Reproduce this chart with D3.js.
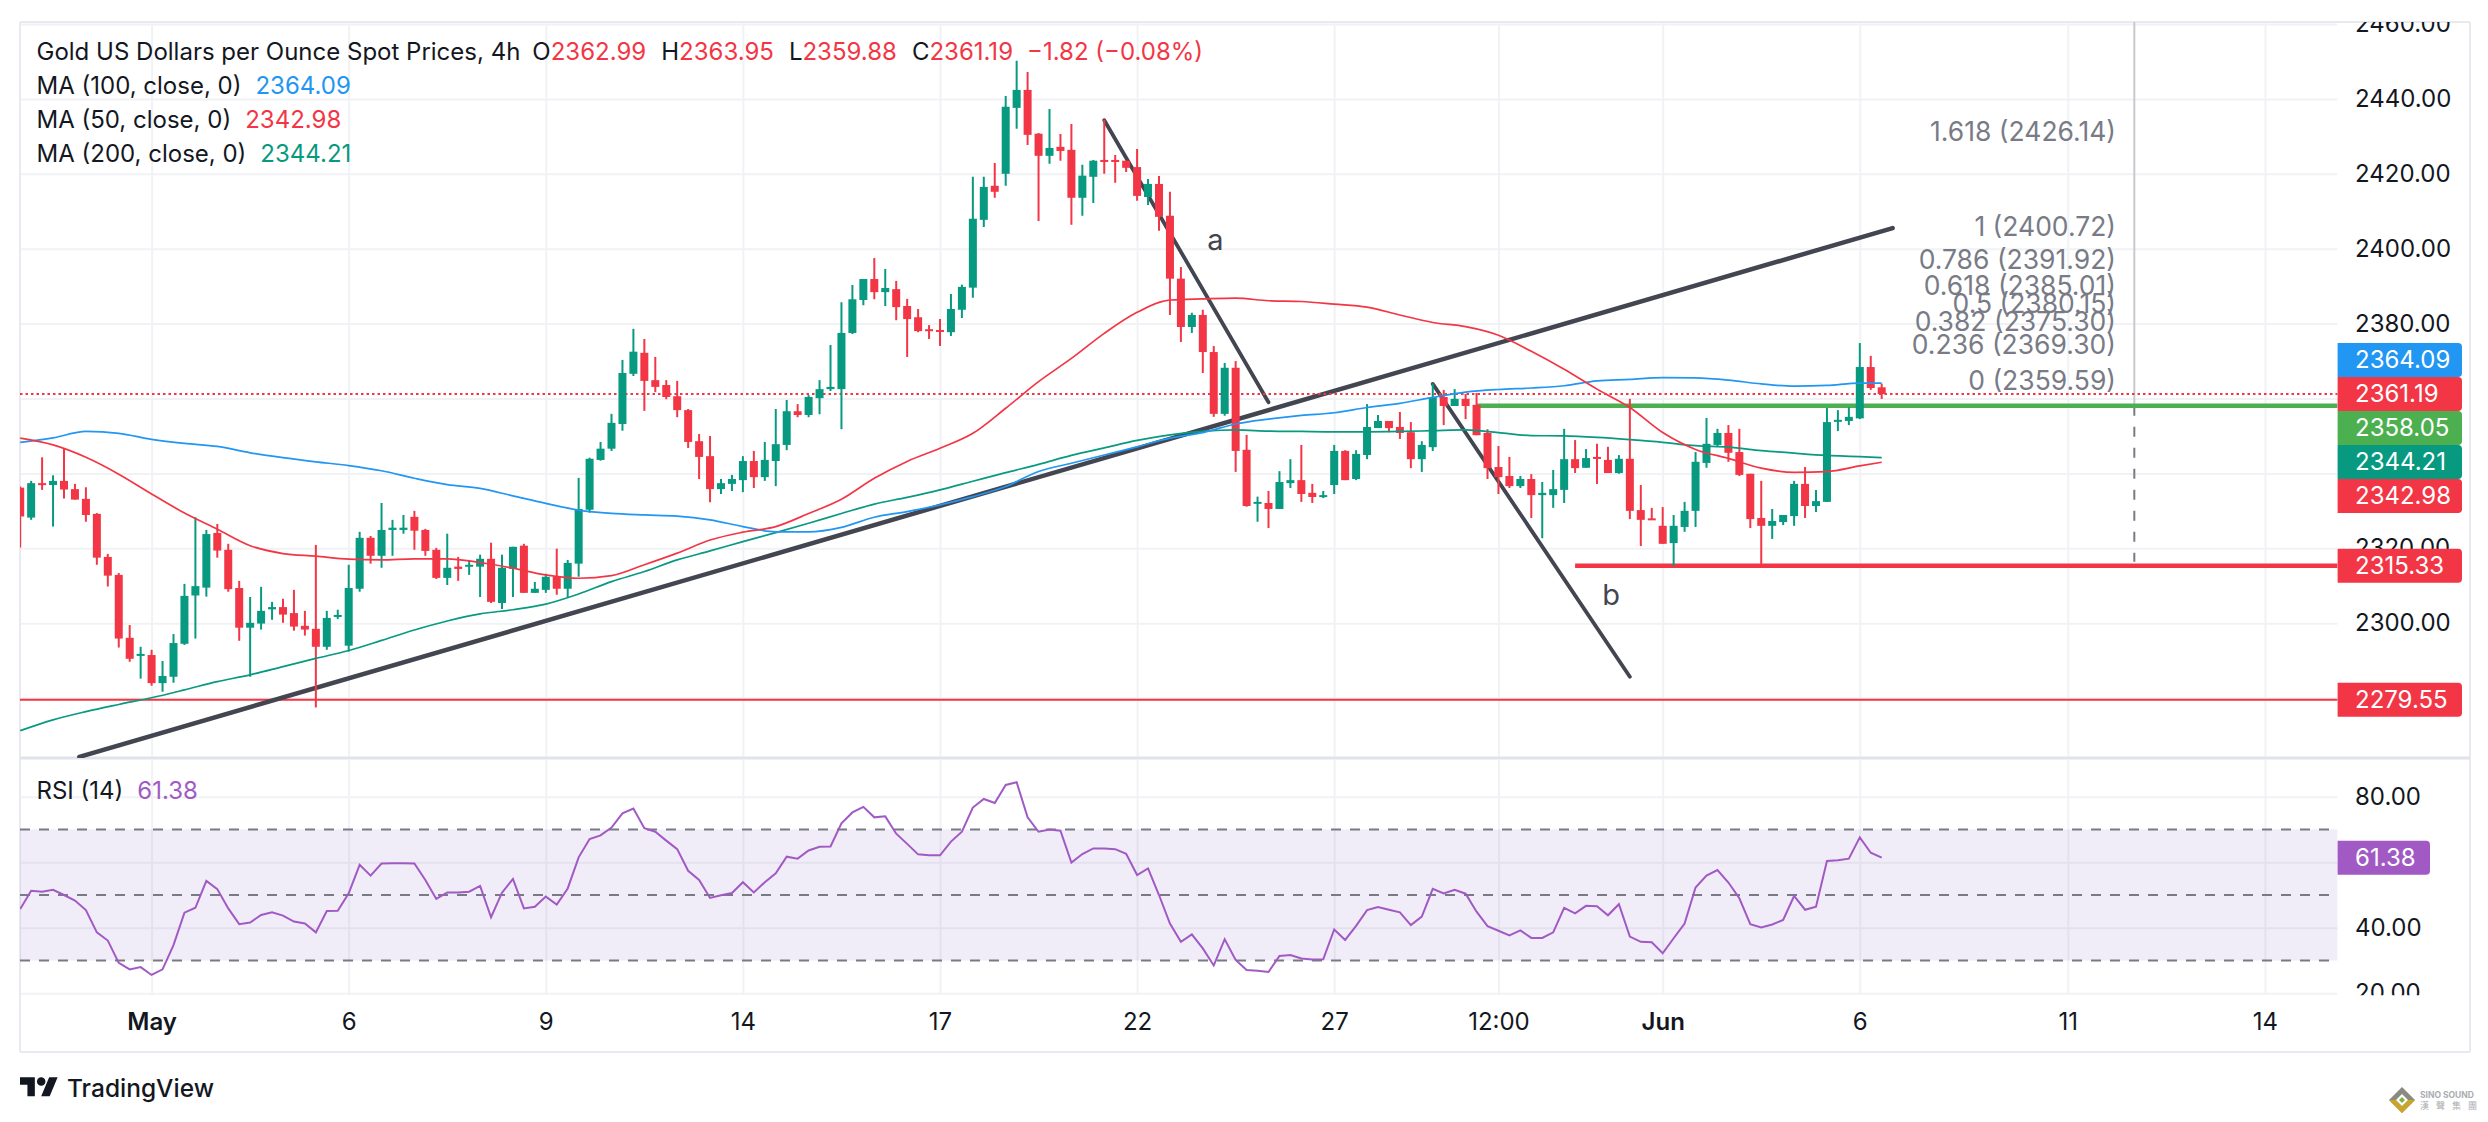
<!DOCTYPE html>
<html>
<head>
  <meta charset="UTF-8">
  <title>Gold US Dollars per Ounce Spot Prices, 4h</title>
  <script type="text/javascript" src="https://cdn.jsdelivr.net/npm/d3@7/dist/d3.min.js" charset="UTF-8"></script>
  <style>
    html, body { margin: 0; padding: 0; background: #fff; }
    svg { display: block; }
    text { font-family: Inter, "Noto Sans", sans-serif; }
  </style>
</head>

<body>

<svg xmlns="http://www.w3.org/2000/svg" width="2488" height="1122"></svg>

<script type="text/javascript">

  var opens = [
    2336.2,2328.2,2337.4,2336.9,2338.0,2335.8,2333.2,2329.2,2317.7,2312.9,
    2296.1,2291.3,2291.5,2284.0,2285.7,2294.5,2307.4,2309.5,2324.1,2319.6,
    2309.4,2298.8,2299.9,2303.7,2304.3,2302.7,2299.3,2298.5,2293.7,2301.8,
    2294.0,2309.2,2322.8,2318.0,2324.9,2324.9,2328.4,2324.9,2319.6,2312.1,
    2315.1,2315.1,2315.1,2317.2,2305.4,2314.5,2320.7,2308.1,2308.9,2312.4,
    2309.2,2315.9,2330.3,2343.6,2346.6,2353.2,2366.6,2372.2,2364.9,2363.6,
    2360.6,2356.9,2348.6,2344.6,2335.8,2337.2,2338.2,2343.3,2339.0,2343.3,
    2347.6,2356.6,2355.6,2360.1,2362.5,2362.5,2377.5,2386.3,2391.9,2388.4,
    2389.2,2384.7,2381.7,2378.5,2378.3,2377.7,2383.7,2389.6,2407.7,2416.8,
    2420.0,2437.6,2442.4,2430.7,2424.8,2427.2,2426.4,2413.6,2419.2,2423.7,
    2423.7,2423.5,2421.8,2413.8,2417.3,2408.8,2392.0,2379.1,2382.3,2372.4,
    2355.9,2368.2,2346.3,2332.0,2332.1,2330.5,2337.4,2338.2,2334.8,2333.7,
    2336.9,2346.0,2338.5,2344.9,2352.1,2354.0,2352.4,2351.0,2343.8,2347.0,
    2360.4,2358.0,2359.9,2358.3,2350.8,2341.7,2339.3,2336.6,2338.5,2334.2,
    2334.2,2335.6,2343.8,2341.5,2344.4,2343.6,2340.1,2343.9,2330.2,2328.0,
    2326.0,2321.4,2325.7,2330.0,2342.8,2347.6,2350.8,2345.7,2339.9,2328.1,
    2326.0,2327.0,2328.6,2337.2,2331.3,2332.4,2353.8,2354.0,2354.7,2368.4,2362.99
  ];
  var highs = [
    2336.5,2338.0,2344.3,2339.5,2346.7,2337.2,2336.3,2329.4,2318.5,2313.4,
    2299.5,2293.7,2292.9,2289.9,2297.1,2310.5,2328.3,2324.9,2326.5,2321.2,
    2311.3,2307.0,2309.7,2305.7,2306.5,2308.9,2303.3,2320.9,2303.3,2303.6,
    2315.6,2324.4,2323.3,2332.1,2327.6,2328.9,2330.0,2325.2,2320.1,2323.9,
    2317.7,2316.9,2318.3,2321.5,2318.3,2320.4,2321.2,2311.0,2313.2,2319.9,
    2316.9,2338.8,2344.2,2348.4,2355.9,2370.3,2378.6,2375.9,2371.1,2364.9,
    2364.7,2357.2,2350.5,2350.0,2338.5,2339.6,2344.6,2346.0,2348.4,2357.2,
    2359.6,2358.5,2360.9,2364.9,2374.3,2385.7,2390.3,2391.9,2397.5,2394.6,
    2391.4,2386.6,2383.9,2379.6,2381.2,2387.9,2390.4,2419.2,2419.2,2422.9,
    2440.8,2450.2,2447.2,2430.9,2437.3,2430.6,2433.3,2422.4,2423.7,2434.4,
    2425.0,2423.5,2426.6,2418.6,2419.4,2415.2,2395.1,2382.9,2383.7,2374.0,
    2369.5,2370.0,2350.3,2333.8,2335.3,2340.6,2343.8,2347.6,2337.2,2335.3,
    2347.6,2346.2,2346.2,2358.5,2355.6,2354.0,2356.4,2353.7,2348.6,2364.0,
    2362.3,2362.5,2361.2,2361.5,2351.8,2347.3,2344.4,2339.3,2339.8,2337.7,
    2340.9,2351.9,2348.9,2346.5,2347.9,2347.1,2344.9,2359.9,2336.9,2330.8,
    2331.0,2328.9,2332.4,2345.7,2354.8,2351.9,2352.9,2351.9,2339.9,2338.0,
    2330.5,2328.9,2338.0,2341.7,2335.6,2357.5,2356.9,2357.7,2374.8,2371.4,2363.95
  ];
  var lows = [
    2320.2,2327.6,2335.6,2325.8,2333.3,2333.0,2327.1,2315.6,2309.8,2293.5,
    2289.7,2285.2,2283.3,2281.7,2284.1,2294.2,2295.9,2307.1,2317.5,2308.4,
    2295.3,2285.7,2298.3,2300.9,2300.1,2298.0,2296.7,2277.5,2292.9,2301.1,
    2292.4,2308.4,2315.9,2314.8,2318.0,2323.9,2319.6,2318.0,2311.8,2310.2,
    2311.3,2312.9,2307.0,2305.4,2303.8,2307.0,2308.1,2308.1,2308.1,2307.6,
    2307.0,2312.4,2329.5,2343.4,2346.0,2351.4,2366.0,2356.7,2361.7,2359.8,
    2355.0,2346.8,2338.5,2332.3,2334.5,2335.3,2335.0,2336.1,2338.0,2336.6,
    2346.2,2355.0,2355.0,2355.8,2362.0,2351.8,2377.2,2384.9,2386.5,2384.7,
    2380.9,2371.1,2377.7,2375.9,2374.0,2376.7,2381.5,2386.9,2405.8,2413.6,
    2416.8,2432.0,2427.7,2407.4,2422.7,2423.5,2406.4,2408.8,2412.2,2420.0,
    2417.6,2420.5,2412.8,2411.7,2404.8,2382.3,2375.1,2377.5,2366.8,2355.1,
    2355.4,2340.4,2331.1,2327.1,2325.4,2330.5,2336.1,2332.4,2332.1,2333.4,
    2334.5,2338.2,2338.2,2343.8,2352.1,2351.0,2349.2,2341.4,2340.4,2346.0,
    2352.9,2358.0,2354.5,2350.2,2338.5,2334.5,2336.1,2336.1,2328.1,2322.7,
    2330.8,2332.1,2340.1,2341.5,2337.2,2340.1,2339.9,2327.8,2320.6,2327.6,
    2321.2,2315.3,2324.4,2325.7,2341.5,2347.1,2343.1,2339.3,2325.4,2315.8,
    2322.5,2326.2,2326.0,2328.1,2329.7,2332.4,2351.3,2352.9,2354.5,2362.3,2359.88
  ];
  var closes = [
    2328.5,2337.4,2336.9,2338.0,2335.7,2333.0,2328.9,2317.5,2312.7,2295.9,
    2290.5,2291.8,2284.0,2285.9,2294.7,2307.3,2309.9,2323.8,2319.4,2309.1,
    2298.8,2300.1,2303.3,2304.3,2302.3,2299.1,2298.3,2293.7,2301.4,2302.2,
    2309.4,2322.8,2318.0,2324.9,2325.5,2325.5,2324.7,2319.3,2312.1,2314.8,
    2314.5,2315.6,2317.2,2305.7,2314.8,2320.4,2308.1,2309.2,2312.4,2309.2,
    2316.1,2330.5,2343.9,2346.6,2353.5,2366.8,2372.5,2364.7,2363.1,2360.4,
    2356.9,2348.4,2344.4,2335.8,2337.4,2338.5,2343.3,2339.0,2343.6,2347.8,
    2356.6,2355.6,2360.4,2362.5,2363.1,2377.5,2386.5,2391.9,2388.4,2389.5,
    2384.4,2381.2,2378.0,2378.1,2377.8,2383.9,2389.8,2408.0,2416.5,2415.2,
    2437.9,2442.4,2430.4,2424.8,2426.9,2426.1,2413.6,2419.5,2423.5,2423.3,
    2423.3,2421.6,2414.1,2417.3,2408.5,2392.0,2379.1,2382.3,2372.4,2355.9,
    2368.2,2346.0,2331.3,2332.4,2330.5,2337.7,2338.2,2334.5,2333.7,2334.2,
    2346.0,2338.2,2345.2,2352.4,2354.0,2352.1,2350.8,2343.8,2347.6,2360.4,
    2358.0,2359.9,2358.0,2350.2,2341.4,2339.0,2336.6,2338.5,2334.2,2334.8,
    2335.8,2343.8,2341.4,2344.1,2343.9,2340.1,2343.9,2330.0,2327.6,2327.6,
    2321.2,2326.0,2330.0,2343.1,2347.9,2350.8,2345.5,2339.6,2327.8,2326.0,
    2327.3,2328.9,2337.2,2331.3,2332.6,2353.7,2354.3,2355.1,2368.4,2362.8,2361.19
  ];

  // moving averages
  var maBars = [0,3,6,9,12,15,18,21,24,27,30,33,36,39,42,45,48,51,54,57,60,63,66,69,72,75,78,81,84,87,
    90,93,96,99,102,105,108,111,114,117,120,123,126,129,132,135,138,141,144,147,150,153,156,159,162,165,168,170];
  var ma100 = [2348.3,2349.5,2351.2,2350.7,2349.1,2348.0,2347.2,2345.5,2344.2,2343.1,2342.1,2340.7,2338.7,2337.0,2336.0,
    2334.0,2332.0,2330.2,2329.3,2328.9,2328.6,2327.6,2325.8,2324.4,2324.4,2325.6,2328.3,2329.8,2331.6,2333.8,2336.5,
    2340.5,2342.7,2344.9,2347.1,2349.4,2350.9,2353.2,2354.5,2355.5,2356.2,2357.6,2358.7,2360.3,2361.7,2362.4,2362.8,
    2363.4,2364.7,2365.1,2365.6,2365.5,2364.9,2363.9,2363.3,2363.5,2364.1,2364.09];
  var ma50 = [2349.4,2347.6,2344.3,2339.8,2334.5,2329.4,2325.1,2320.7,2318.6,2317.9,2317.1,2316.9,2317.2,2317.2,2316.2,
    2314.7,2312.9,2312.0,2312.7,2315.6,2318.7,2322.2,2324.3,2325.8,2329.3,2333.1,2338.7,2343.2,2346.7,2350.7,2357.4,
    2364.5,2370.7,2377.4,2383.0,2386.3,2386.6,2386.8,2386.1,2385.9,2385.2,2384.4,2382.3,2380.3,2379.2,2376.9,2372.6,
    2367.8,2362.5,2357.6,2350.9,2346.4,2344.0,2341.4,2340.3,2340.5,2342.0,2342.98];
  var ma200 = [2271.3,2274.2,2276.4,2278.3,2280.1,2282.2,2284.4,2286.2,2288.4,2290.6,2292.7,2295.4,2298.2,2300.6,2302.5,
    2303.6,2305.1,2307.8,2311.1,2313.8,2316.9,2319.3,2321.8,2324.2,2326.7,2329.3,2331.8,2333.6,2335.6,2337.9,2340.2,
    2342.4,2344.8,2346.8,2348.8,2350.3,2351.2,2351.6,2351.3,2351.2,2351.1,2351.1,2351.2,2351.4,2351.6,2350.9,2350.1,
    2350.0,2349.6,2349.0,2348.3,2347.4,2347.0,2346.1,2345.4,2344.8,2344.5,2344.21];

  var rsi = [
    45.7,51.3,51.0,51.6,50.0,48.3,45.4,38.6,36.1,29.3,
    27.3,28.0,25.6,27.3,34.7,44.6,46.1,54.3,51.8,45.9,
    41.1,41.6,43.9,44.7,43.7,41.9,41.3,38.6,45.1,45.2,
    50.5,59.2,55.9,59.6,59.7,59.7,59.6,54.6,48.8,50.8,
    50.8,51.0,52.8,43.2,50.7,54.9,45.9,46.4,49.5,47.1,
    52.0,61.5,67.1,68.2,70.6,74.9,76.4,70.4,69.3,66.6,
    64.0,57.4,54.6,49.1,49.9,50.6,53.9,50.8,53.9,56.6,
    61.7,61.1,63.6,64.7,64.8,71.9,75.2,76.9,73.7,74.0,
    68.7,65.6,62.4,62.1,62.1,66.3,69.3,76.7,79.3,78.1,
    83.6,84.4,73.7,69.3,70.0,69.6,59.9,62.5,64.2,64.2,
    64.0,62.6,56.1,58.1,50.0,41.3,35.7,38.0,33.7,28.5,
    36.5,30.2,27.1,26.9,26.5,31.4,31.7,30.6,30.3,30.4,
    39.5,36.3,40.6,45.4,46.3,45.5,44.7,40.8,43.4,51.9,
    50.5,51.6,50.4,44.9,40.5,39.1,37.7,39.2,36.9,36.9,
    38.6,46.1,44.4,46.7,46.6,43.8,47.2,37.3,35.7,35.6,
    32.2,36.8,41.3,52.3,55.9,57.6,53.8,49.0,41.1,40.1,
    41.0,42.4,49.7,45.5,46.4,60.4,60.6,61.1,67.6,62.9,61.38
  ];

  var priceTicks = [2280,2300,2320,2340,2360,2380,2400,2420,2440,2460];
  var rsiTicks = [20,40,60,80];
  var rsiLevels = [70,50,30];
  var timeBars = [12,30,48,66,84,102,120,135,150,168,187,205];
  var timeLabels = ["May","6","9","14","17","22","27","12:00","Jun","6","11","14"];

  var fibLevels = ["1.618","1","0.786","0.618","0.5","0.382","0.236","0"];
  var fibPrices = [2426.14,2400.72,2391.92,2385.01,2380.15,2375.30,2369.30,2359.59];

  var lastClose = 2361.19;
  var support = 2279.55;
  var lowLevel = 2315.33;
  var highLevel = 2358.05;

  // drawing tools as [bar, price]
  var trendLine = [[5.4,2264.3],[171,2405.5]];
  var waveA = [[99,2434.3],[114,2359.0]];
  var waveB = [[129,2363.9],[147,2285.7]];
  var measureBar = 193.07;

  var red = "#f23645", green = "#089981", blue = "#2196f3", purple = "#a15ac4",
      tool = "#434651", grid = "#f1f2f5", frame = "#e8eaef", ink = "#131722", grey = "#787b86";

  var left = 20, right = 2337.6, outer = 2470, paneTop = 22, paneBottom = 758,
      rsiTop = 760, rsiBottom = 995.3, frameBottom = 1052;

  var x = d3.scaleLinear().domain( [12, 205] ).range( [151.6, 2264.95] );
  var y = d3.scaleLinear().domain( [2440, 2300] ).range( [98.9, 623.2] );
  var yRsi = d3.scaleLinear().domain( [80, 20] ).range( [796.7, 993.3] );

  var svg = d3.select( "svg" );
  var defs = svg.append( "defs" );

  function addClip( id, x0, y0, w, h )
  {
    defs.append( "clipPath" ).attr( "id", id ).append( "rect" )
        .attr( "x", x0 ).attr( "y", y0 ).attr( "width", w ).attr( "height", h );
  }
  addClip( "mainClip", left, paneTop, right - left, paneBottom - paneTop );
  addClip( "rsiClip", left, rsiTop, right - left, rsiBottom - rsiTop );
  addClip( "mainAxisClip", right, paneTop, outer - right, paneBottom - paneTop );
  addClip( "rsiAxisClip", right, rsiTop, outer - right, rsiBottom - rsiTop );

  // grids
  function gridAxes( parent, scale, ticks, y0, y1 )
  {
    parent.append( "g" )
        .attr( "transform", "translate(" + left + ",0)" )
        .call( d3.axisRight( scale ).tickValues( ticks ).tickSize( right - left ).tickFormat( "" ) )
        .call( function ( g ) { g.select( ".domain" ).remove(); } )
        .selectAll( "line" ).attr( "stroke", grid ).attr( "stroke-width", 2 );
    parent.append( "g" )
        .attr( "transform", "translate(0," + y0 + ")" )
        .call( d3.axisBottom( x ).tickValues( timeBars ).tickSize( y1 - y0 ).tickFormat( "" ) )
        .call( function ( g ) { g.select( ".domain" ).remove(); } )
        .selectAll( "line" ).attr( "stroke", grid ).attr( "stroke-width", 2 );
  }
  gridAxes( svg.append( "g" ).attr( "clip-path", "url(#mainClip)" ), y, priceTicks, paneTop, paneBottom );
  gridAxes( svg.append( "g" ).attr( "clip-path", "url(#rsiClip)" ), yRsi, rsiTicks, rsiTop, rsiBottom );

  // frame
  var frameLines = [
    [left, paneTop, left, frameBottom],
    [left, paneTop, outer, paneTop],
    [outer, paneTop, outer, frameBottom],
    [left, frameBottom, outer, frameBottom]
  ];
  svg.append( "g" ).selectAll( "line" ).data( frameLines ).enter().append( "line" )
      .attr( "x1", function ( d ) { return d[0]; } )
      .attr( "y1", function ( d ) { return d[1]; } )
      .attr( "x2", function ( d ) { return d[2]; } )
      .attr( "y2", function ( d ) { return d[3]; } )
      .attr( "stroke", frame ).attr( "stroke-width", 2 );
  svg.append( "line" )
      .attr( "x1", left ).attr( "x2", outer )
      .attr( "y1", paneBottom ).attr( "y2", paneBottom )
      .attr( "stroke", "#e0e3eb" ).attr( "stroke-width", 3 );

  var main = svg.append( "g" ).attr( "clip-path", "url(#mainClip)" );

  // vertical measure line
  main.append( "line" )
      .attr( "x1", x( measureBar ) ).attr( "x2", x( measureBar ) )
      .attr( "y1", paneTop ).attr( "y2", y( highLevel ) )
      .attr( "stroke", "#c8c9cd" ).attr( "stroke-width", 2 );
  main.append( "line" )
      .attr( "x1", x( measureBar ) ).attr( "x2", x( measureBar ) )
      .attr( "y1", y( highLevel ) ).attr( "y2", y( lowLevel ) - 4 )
      .attr( "stroke", grey ).attr( "stroke-width", 2 ).attr( "stroke-dasharray", "10 11" );

  // horizontal levels
  var levels = [
    { price: support, from: 0, color: red, width: 2 },
    { price: lowLevel, from: 142, color: red, width: 4.5 },
    { price: highLevel, from: 133, color: "#4caf50", width: 4.5 }
  ];
  main.selectAll( "line.level" ).data( levels ).enter().append( "line" )
      .attr( "class", "level" )
      .attr( "x1", function ( d ) { return d.from === 0 ? left : x( d.from ); } )
      .attr( "x2", right )
      .attr( "y1", function ( d ) { return y( d.price ); } )
      .attr( "y2", function ( d ) { return y( d.price ); } )
      .attr( "stroke", function ( d ) { return d.color; } )
      .attr( "stroke-width", function ( d ) { return d.width; } );

  // trend lines
  var toolLine = d3.line()
      .x( function ( d ) { return x( d[0] ); } )
      .y( function ( d ) { return y( d[1] ); } );
  main.append( "path" ).attr( "d", toolLine( trendLine ) )
      .attr( "fill", "none" ).attr( "stroke", tool ).attr( "stroke-width", 4.5 ).attr( "stroke-linecap", "round" );
  [waveA, waveB].forEach( function ( wave )
  {
    main.append( "path" ).attr( "d", toolLine( wave ) )
        .attr( "fill", "none" ).attr( "stroke", tool ).attr( "stroke-width", 3.8 ).attr( "stroke-linecap", "round" );
  } );

  // last price line
  main.append( "line" )
      .attr( "x1", left ).attr( "x2", right )
      .attr( "y1", y( lastClose ) ).attr( "y2", y( lastClose ) )
      .attr( "stroke", red ).attr( "stroke-width", 2 ).attr( "stroke-dasharray", "2.5 3" );

  // candles
  var bars = d3.range( opens.length );
  function candleColor( i ) { return closes[i] < opens[i] ? red : green; }

  main.selectAll( "line.wick" ).data( bars ).enter().append( "line" )
      .attr( "class", "wick" )
      .attr( "x1", function ( i ) { return x( i ); } )
      .attr( "x2", function ( i ) { return x( i ); } )
      .attr( "y1", function ( i ) { return y( highs[i] ); } )
      .attr( "y2", function ( i ) { return y( lows[i] ); } )
      .attr( "stroke", candleColor ).attr( "stroke-width", 2 );
  main.selectAll( "rect.body" ).data( bars ).enter().append( "rect" )
      .attr( "class", "body" )
      .attr( "x", function ( i ) { return x( i ) - 4; } )
      .attr( "width", 8 )
      .attr( "y", function ( i ) { return y( Math.max( opens[i], closes[i] ) ); } )
      .attr( "height", function ( i ) { return Math.max( 2, Math.abs( y( opens[i] ) - y( closes[i] ) ) ); } )
      .attr( "fill", candleColor );

  // moving averages
  var maLine = d3.line()
      .x( function ( d, i ) { return x( maBars[i] ); } )
      .y( function ( d ) { return y( d ); } )
      .curve( d3.curveMonotoneX );
  [[ma200, green], [ma100, blue], [ma50, red]].forEach( function ( ma )
  {
    main.append( "path" ).attr( "d", maLine( ma[0] ) )
        .attr( "fill", "none" ).attr( "stroke", ma[1] ).attr( "stroke-width", 1.7 );
  } );

  // wave labels
  main.append( "text" ).attr( "x", x( 109.15 ) ).attr( "y", y( 2402.3 ) ).attr( "dy", "0.35em" )
      .attr( "text-anchor", "middle" ).attr( "font-size", 29 ).attr( "fill", tool ).text( "a" );
  main.append( "text" ).attr( "x", x( 145.3 ) ).attr( "y", y( 2307.5 ) ).attr( "dy", "0.35em" )
      .attr( "text-anchor", "middle" ).attr( "font-size", 29 ).attr( "fill", tool ).text( "b" );

  // fibonacci labels
  main.selectAll( "text.fib" ).data( fibLevels ).enter().append( "text" )
      .attr( "class", "fib" )
      .attr( "x", 2116 )
      .attr( "y", function ( d, i ) { return y( fibPrices[i] ) - 19; } )
      .attr( "dy", "0.35em" )
      .attr( "text-anchor", "end" )
      .attr( "font-size", 26.5 )
      .attr( "fill", grey )
      .text( function ( d, i ) { return d + " (" + fibPrices[i].toFixed( 2 ) + ")"; } );

  // RSI pane
  var rsiPane = svg.append( "g" ).attr( "clip-path", "url(#rsiClip)" );
  rsiPane.append( "rect" )
      .attr( "x", left ).attr( "width", right - left )
      .attr( "y", yRsi( 70 ) ).attr( "height", yRsi( 30 ) - yRsi( 70 ) )
      .attr( "fill", "#7e57c2" ).attr( "fill-opacity", 0.11 );
  rsiPane.selectAll( "line.level" ).data( rsiLevels ).enter().append( "line" )
      .attr( "x1", left ).attr( "x2", right )
      .attr( "y1", function ( d ) { return yRsi( d ); } )
      .attr( "y2", function ( d ) { return yRsi( d ); } )
      .attr( "stroke", grey ).attr( "stroke-width", 2 ).attr( "stroke-dasharray", "10 9" );
  rsiPane.append( "path" )
      .attr( "d", d3.line()
          .x( function ( d, i ) { return x( i ); } )
          .y( function ( d ) { return yRsi( d ); } )( rsi ) )
      .attr( "fill", "none" ).attr( "stroke", purple ).attr( "stroke-width", 2 );

  // axes
  function labelAxis( clipId, scale, ticks )
  {
    var g = svg.append( "g" ).attr( "clip-path", "url(#" + clipId + ")" ).append( "g" )
        .attr( "transform", "translate(2355,0)" )
        .call( d3.axisRight( scale ).tickValues( ticks ).tickSize( 0 ).tickPadding( 0 ).tickFormat( d3.format( ".2f" ) ) );
    g.select( ".domain" ).remove();
    g.selectAll( "text" )
        .attr( "font-family", "Inter, sans-serif" ).attr( "font-size", 24 ).attr( "fill", ink );
  }
  labelAxis( "mainAxisClip", y, priceTicks.slice( 1 ) );
  labelAxis( "rsiAxisClip", yRsi, rsiTicks );

  var timeAxis = svg.append( "g" )
      .attr( "transform", "translate(0,1013)" )
      .call( d3.axisBottom( x ).tickValues( timeBars ).tickSize( 0 ).tickPadding( 0 )
          .tickFormat( function ( d, i ) { return timeLabels[i]; } ) );
  timeAxis.select( ".domain" ).remove();
  timeAxis.selectAll( "text" )
      .attr( "font-family", "Inter, sans-serif" ).attr( "font-size", 24 ).attr( "fill", ink )
      .attr( "font-weight", function ( d, i ) { return i === 0 || i === 8 ? 600 : 400; } );

  // price badges: the five near the last close stack on each other
  var slotHeight = 34;
  var stacked = [
    { value: 2364.09, color: blue, slot: -1 },
    { value: lastClose, color: red, slot: 0 },
    { value: highLevel, color: "#4caf50", slot: 1 },
    { value: 2344.21, color: green, slot: 2 },
    { value: 2342.98, color: red, slot: 3 }
  ];
  var badges = stacked.map( function ( b ) { return { value: b.value, color: b.color, cy: y( lastClose ) + b.slot * slotHeight }; } );
  badges.push( { value: lowLevel, color: red, cy: y( lowLevel ) } );
  badges.push( { value: support, color: red, cy: y( support ) } );

  function badgePath( x0, x1, y0, y1 )
  {
    var r = 4;
    return [ "M", x0, y0, "H", x1 - r, "Q", x1, y0, x1, y0 + r, "V", y1 - r, "Q", x1, y1, x1 - r, y1, "H", x0, "Z" ].join( " " );
  }

  var badge = svg.append( "g" ).selectAll( "g" ).data( badges ).enter().append( "g" );
  badge.append( "path" )
      .attr( "d", function ( d ) { return badgePath( right, 2462, d.cy - slotHeight / 2, d.cy + slotHeight / 2 ); } )
      .attr( "fill", function ( d ) { return d.color; } );
  badge.append( "text" )
      .attr( "x", 2355 ).attr( "y", function ( d ) { return d.cy; } ).attr( "dy", "0.35em" )
      .attr( "font-size", 24 ).attr( "fill", "#fff" )
      .text( function ( d ) { return d.value.toFixed( 2 ); } );

  svg.append( "path" )
      .attr( "d", badgePath( right, 2430, yRsi( 61.38 ) - 17, yRsi( 61.38 ) + 17 ) )
      .attr( "fill", purple );
  svg.append( "text" )
      .attr( "x", 2355 ).attr( "y", yRsi( 61.38 ) ).attr( "dy", "0.35em" )
      .attr( "font-size", 24 ).attr( "fill", "#fff" ).text( "61.38" );

  // legends
  function legendLine( cy, parts )
  {
    var t = svg.append( "text" ).attr( "x", 36.5 ).attr( "y", cy ).attr( "dy", "0.35em" ).attr( "font-size", 24 );
    parts.forEach( function ( p )
    {
      t.append( "tspan" ).attr( "dx", p[2] || 0 ).attr( "fill", p[1] ).text( p[0] );
    } );
  }
  legendLine( 52, [
    ["Gold US Dollars per Ounce Spot Prices, 4h", ink],
    ["O", ink, 12], ["2362.99", red],
    ["H", ink, 15], ["2363.95", red],
    ["L", ink, 15], ["2359.88", red],
    ["C", ink, 15], ["2361.19", red],
    ["\u22121.82 (\u22120.08%)", red, 14]
  ] );
  legendLine( 86, [["MA (100, close, 0)", ink], ["2364.09", blue, 14]] );
  legendLine( 120, [["MA (50, close, 0)", ink], ["2342.98", red, 14]] );
  legendLine( 154, [["MA (200, close, 0)", ink], ["2344.21", green, 14]] );
  legendLine( 790.7, [["RSI (14)", ink], ["61.38", purple, 14]] );

  // TradingView mark
  var logo = svg.append( "g" ).attr( "transform", "translate(20,1073) scale(1.06)" ).attr( "fill", ink );
  logo.append( "path" ).attr( "d", "M14 22H7V11H0V4h14v18zM28 22h-8l7.5-18h8L28 22z" );
  logo.append( "circle" ).attr( "cx", 20 ).attr( "cy", 8 ).attr( "r", 4 );
  svg.append( "text" )
      .attr( "x", 67 ).attr( "y", 1088 ).attr( "dy", "0.35em" )
      .attr( "font-size", 24.5 ).attr( "font-weight", 500 ).attr( "fill", ink )
      .text( "TradingView" );

  // watermark
  var mark = svg.append( "g" ).attr( "transform", "translate(2402,1100)" );
  mark.append( "polygon" ).attr( "points", "-13,0 0,-13 13,0 0,13" ).attr( "fill", "#8a8a80" );
  mark.append( "polygon" ).attr( "points", "-13,0 0,13 13,0 6,0 0,6 -6,0" ).attr( "fill", "#c9a52a" );
  mark.append( "polygon" ).attr( "points", "-6,0 0,-6 6,0 0,6" ).attr( "fill", "#fff" );
  mark.append( "polygon" ).attr( "points", "-3,0 0,-3 3,0 0,3" ).attr( "fill", "#7db343" );
  svg.append( "text" )
      .attr( "x", 2420 ).attr( "y", 1095 ).attr( "dy", "0.35em" )
      .attr( "font-size", 8.5 ).attr( "font-weight", 700 ).attr( "fill", "#a9adb3" )
      .text( "SINO SOUND" );
  svg.append( "text" )
      .attr( "x", 2420 ).attr( "y", 1106 ).attr( "dy", "0.35em" )
      .attr( "font-size", 9 ).attr( "letter-spacing", 7 ).attr( "fill", "#a9adb3" )
      .style( "font-family", "'Noto Sans CJK TC'" )
      .text( "漢聲集團" );

</script>

</body>
</html>
